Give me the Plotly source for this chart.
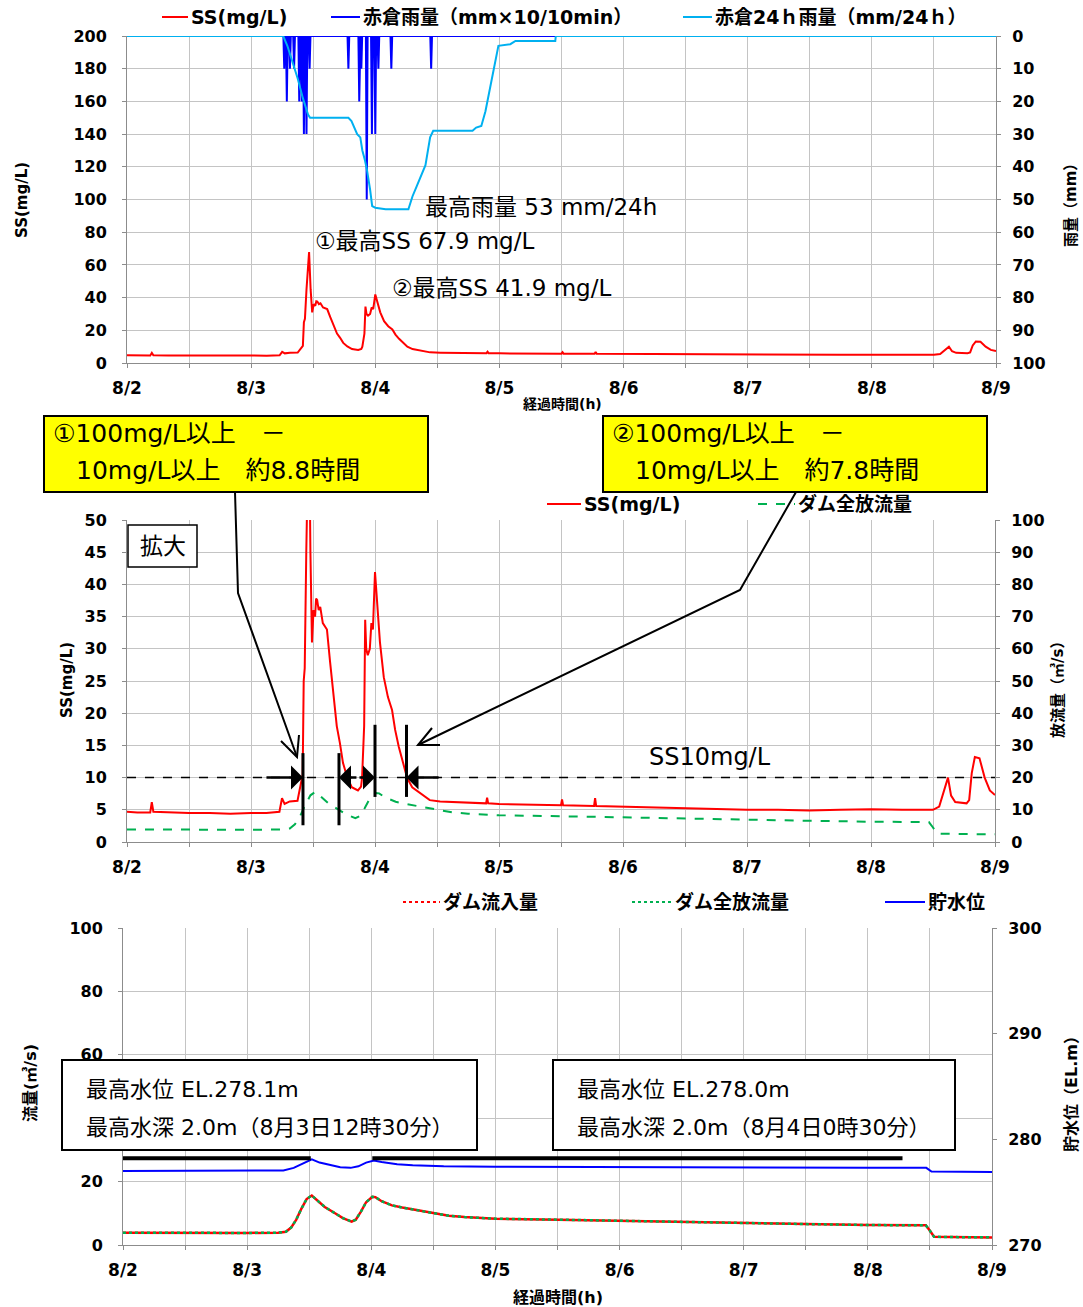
import plotly.graph_objects as go

W, H = 1083, 1307

# ---------------- data (hours from 8/2 0:00) ----------------
date_labels = ["8/2", "8/3", "8/4", "8/5", "8/6", "8/7", "8/8", "8/9"]

ss_hours = [0, 2, 4.5, 4.8, 5.1, 8, 12, 16, 20, 24, 27, 29.5, 30.0, 30.5, 31.5, 33.0, 33.5, 34.0,
            34.2, 34.4, 34.7, 35.0, 35.2, 35.5, 35.8, 36.1, 36.4, 36.6, 36.8, 37.1, 37.4, 37.9,
            38.7, 39.3, 39.9, 40.6, 41.2, 41.8, 42.6, 43.5, 44.7, 45.3, 45.5, 45.9, 46.1, 46.3,
            46.6, 47.0, 47.3, 47.6, 48.0, 48.4, 48.96, 49.7, 50.5, 51.3, 51.9, 52.6, 53.4, 54.2,
            55.2, 56.7, 58.6, 60.6, 66, 69.5, 69.7, 69.9, 72, 78, 84.0, 84.2, 84.4, 90.4, 90.6,
            90.8, 96, 102, 108, 114, 120, 126, 132, 138, 144, 150, 156, 157.2, 158.3, 158.9,
            159.5, 160.3, 162.5, 163.0, 163.5, 164.1, 165.0, 166.0, 167.0, 168.0]
ss_values = [4.7, 4.6, 4.6, 6.2, 4.7, 4.6, 4.5, 4.5, 4.4, 4.5, 4.5, 4.7, 6.8, 5.9, 6.3, 6.4, 8.4, 10.5,
             25, 27, 45, 60, 67.9, 45, 31, 36, 35, 37.8, 37.6, 36, 36.5, 34,
             33, 28, 23, 18, 15.4, 12.3, 10.1, 8.5, 8.0, 8.6, 10, 18, 34.5, 30,
             29, 30, 34, 33, 41.9, 37.6, 31, 25.6, 22.5, 20.5, 17.4, 14.8, 12.3, 10,
             8.5, 7.6, 6.5, 6.3, 6.1, 6.0, 6.9, 6.0, 5.9, 5.8, 5.7, 6.6, 5.7, 5.6, 6.8,
             5.6, 5.5, 5.3, 5.2, 5.1, 5.0, 5.0, 4.9, 5.0, 5.1, 5.0, 5.0, 5.5, 8.5, 10.0,
             7.2, 6.2, 6.0, 6.5, 10.7, 13.2, 13.0, 10.0, 8.0, 7.3]

# 赤倉雨量 (mm x10 / 10min): spikes
rain10_hours = [30.4, 30.9, 31.5, 32.3, 33.3, 33.8, 34.2, 34.7, 35.3, 42.8, 44.9, 45.3, 46.35,
                47.35, 48.0, 48.6, 51.1, 58.8]
rain10_values = [10, 20, 10, 10, 20, 20, 30, 30, 10, 10, 20, 10, 50, 30, 30, 10, 10, 10]

# 赤倉24h雨量 (mm/24h)
rain24_hours = [0, 30.2, 31.0, 32.0, 33.0, 34.0, 35.0, 35.4, 42.8, 43.4, 44.5, 45.1, 45.5, 46.0,
                46.4, 47.0, 47.4, 48.0, 50.0, 54.4, 55.2, 56.0, 56.7, 57.7, 58.6, 59.2, 66.8,
                67.5, 68.5, 69.3, 70.3, 71.2, 71.8, 74.1, 75.1, 82.8, 82.9, 168]
rain24_values = [0, 0, 3, 8, 13, 19, 24, 25, 25, 26, 30, 31, 35, 38,
                 41, 47, 52, 52.5, 53, 53, 49, 46, 43.5, 39.5, 31, 29, 29,
                 28, 27.5, 23, 15, 8, 3, 2.5, 1.5, 1.5, 0, 0]

# ダム全放流量 / ダム流入量 (m3/s)
flow_hours = [0, 12, 24, 30, 31.5, 32.5, 33.5, 34.5, 35.5, 36.5, 37.5, 39, 41, 42.5, 44.2, 45,
              46, 47, 48.2, 48.8, 50, 52, 54, 56, 58, 60, 63, 66, 69.6, 72, 84, 96, 108, 120,
              132, 144, 155.2, 156.0, 156.8, 160, 168]
outflow_values = [3.9, 3.8, 3.8, 3.9, 4.2, 5.5, 8.0, 11.5, 14.5, 15.6, 14.2, 12, 10, 8.5, 7.4, 8.0,
                  10.5, 13.5, 15.2, 15.1, 13.8, 12.5, 11.8, 11.2, 10.5, 10, 9.2, 8.8, 8.4, 8.3, 8.0,
                  7.6, 7.3, 6.9, 6.6, 6.3, 6.2, 4.5, 2.6, 2.5, 2.4]
inflow_values = [3.9, 3.8, 3.8, 3.9, 4.2, 5.5, 8.0, 11.5, 14.5, 15.6, 14.2, 12, 10, 8.5, 7.4, 8.0,
                 10.5, 13.5, 15.2, 15.1, 13.8, 12.5, 11.8, 11.2, 10.5, 10, 9.2, 8.8, 8.4, 8.3, 8.0,
                 7.6, 7.3, 6.9, 6.6, 6.3, 6.2, 4.5, 2.6, 2.5, 2.4]

# 貯水位 (EL.m)
level_hours = [0, 24, 31, 33, 35, 36.5, 38, 40, 42, 44, 45.5, 47, 48.5, 50, 53, 56, 62, 72, 96,
               120, 144, 155.3, 156.3, 168]
level_values = [277.0, 277.0, 277.05, 277.3, 277.8, 278.1, 277.8, 277.55, 277.35, 277.3, 277.45,
                277.8, 278.0, 277.85, 277.65, 277.55, 277.45, 277.4, 277.35, 277.3, 277.3, 277.3,
                276.95, 276.9]

assert len(ss_hours) == len(ss_values)
assert len(rain10_hours) == len(rain10_values)
assert len(rain24_hours) == len(rain24_values)
assert len(flow_hours) == len(outflow_values) == len(inflow_values)
assert len(level_hours) == len(level_values)

# expand 10-min rain spikes into a line series
r10_x, r10_y = [0], [0]
for t, v in zip(rain10_hours, rain10_values):
    r10_x += [t - 1 / 6, t, t + 1 / 6]
    r10_y += [0, v, 0]
r10_x.append(168)
r10_y.append(0)

# ---------------- helpers ----------------
def px(x):
    return x / W


def py(y):
    return 1 - y / H


JP = "DejaVu Sans, Noto Sans CJK JP"
GRID = "#c4c4c4"
AX = "#8c8c8c"
TICK = dict(family="DejaVu Sans", size=16, color="black", weight="bold")
XTICK = dict(family="DejaVu Sans", size=17, color="black", weight="bold")

C_RED, C_BLUE, C_LBLUE, C_GREEN = "#ff0000", "#0000ff", "#00b0f0", "#00b050"

tickvals = list(range(0, 169, 12))
ticktext = [date_labels[i // 2] if i % 2 == 0 else "" for i in range(len(tickvals))]

fig = go.Figure()

fig.add_trace(go.Scatter(x=ss_hours, y=ss_values, mode="lines", name="SS(mg/L)",
                         line=dict(color=C_RED, width=2), xaxis="x", yaxis="y"))
fig.add_trace(go.Scatter(x=r10_x, y=r10_y, mode="lines", name="赤倉雨量（mm×10/10min）",
                         line=dict(color=C_BLUE, width=2), xaxis="x", yaxis="y2"))
fig.add_trace(go.Scatter(x=rain24_hours, y=rain24_values, mode="lines", name="赤倉24ｈ雨量（mm/24ｈ）",
                         line=dict(color=C_LBLUE, width=2), xaxis="x", yaxis="y2"))

fig.add_trace(go.Scatter(x=ss_hours, y=ss_values, mode="lines", name="SS(mg/L)",
                         line=dict(color=C_RED, width=2), xaxis="x2", yaxis="y3"))
fig.add_trace(go.Scatter(x=flow_hours, y=outflow_values, mode="lines", name="ダム全放流量",
                         line=dict(color=C_GREEN, width=2, dash="dash"), xaxis="x2", yaxis="y4"))

fig.add_trace(go.Scatter(x=flow_hours, y=inflow_values, mode="lines", name="ダム流入量",
                         line=dict(color=C_RED, width=2.5), xaxis="x3", yaxis="y5"))
fig.add_trace(go.Scatter(x=flow_hours, y=outflow_values, mode="lines", name="ダム全放流量",
                         line=dict(color=C_GREEN, width=2.5, dash="dot"), xaxis="x3", yaxis="y5"))
fig.add_trace(go.Scatter(x=level_hours, y=level_values, mode="lines", name="貯水位",
                         line=dict(color=C_BLUE, width=2), xaxis="x3", yaxis="y6"))


def xax(domain, anchor):
    return dict(domain=domain, anchor=anchor, range=[0, 168], tickvals=tickvals, ticktext=ticktext,
                showgrid=True, gridcolor=GRID, gridwidth=1, showline=True, linecolor=AX, linewidth=1,
                ticks="outside", ticklen=4, tickcolor=AX, tickfont=XTICK, zeroline=False,
                ticklabelstandoff=6, automargin=False)


def yax(domain, anchor, rng, dtick, side="left", overlay=None, grid=True):
    d = dict(domain=domain, anchor=anchor, range=rng, dtick=dtick, tick0=0, side=side,
             showgrid=grid, gridcolor=GRID, gridwidth=1, showline=True, linecolor=AX, linewidth=1,
             ticks="outside", ticklen=4, tickcolor=AX, tickfont=TICK, zeroline=False,
             ticklabelstandoff=12 if side == "left" else 8, automargin=False)
    if overlay:
        d["overlaying"] = overlay
    return d


top_dom = [py(363), py(36)]
mid_dom = [py(842), py(520)]
bot_dom = [py(1245), py(928)]

layout_axes = dict(
    xaxis=xax([px(127), px(996)], "y"),
    yaxis=yax(top_dom, "x", [0, 200], 20),
    yaxis2=yax(top_dom, "x", [100, 0], 10, side="right", overlay="y", grid=False),
    xaxis2=xax([px(127), px(995)], "y3"),
    yaxis3=yax(mid_dom, "x2", [0, 50], 5),
    yaxis4=yax(mid_dom, "x2", [0, 100], 10, side="right", overlay="y3", grid=False),
    xaxis3=xax([px(123), px(992)], "y5"),
    yaxis5=yax(bot_dom, "x3", [0, 100], 20),
    yaxis6=yax(bot_dom, "x3", [270, 300], 10, side="right", overlay="y5", grid=False),
)
layout_axes["yaxis6"]["tick0"] = 270
# the 40 label is hidden behind the info box in the reference
layout_axes["yaxis5"].pop("dtick")
layout_axes["yaxis5"]["tickvals"] = [0, 20, 40, 60, 80, 100]
layout_axes["yaxis5"]["ticktext"] = ["0", "20", "", "60", "80", "100"]

shapes = []
annotations = []


def line_px(x0, y0, x1, y1, w=2, color="black", dash=None):
    shapes.append(dict(type="line", xref="paper", yref="paper", x0=px(x0), y0=py(y0), x1=px(x1),
                       y1=py(y1), line=dict(color=color, width=w, dash=dash), layer="above"))


def path_px(pts, w=2):
    p = "M " + " L ".join(f"{px(a):.5f},{py(b):.5f}" for a, b in pts)
    shapes.append(dict(type="path", xref="paper", yref="paper", path=p,
                       line=dict(color="black", width=w), layer="above"))


def rect_px(x0, y0, x1, y1, fill, w=2):
    shapes.append(dict(type="rect", xref="paper", yref="paper", x0=px(x0), y0=py(y0), x1=px(x1),
                       y1=py(y1), fillcolor=fill, line=dict(color="black", width=w), layer="above"))


def text_px(x, y, s, size=23, anchor="left", bold=False, family=JP, angle=0):
    annotations.append(dict(xref="paper", yref="paper", x=px(x), y=py(y), text=s, showarrow=False,
                            xanchor=anchor, yanchor="middle", textangle=angle,
                            font=dict(family=family, size=size, color="black",
                                      weight="bold" if bold else "normal")))


def legend_item(x0, x1, y, color, dash, label):
    line_px(x0, y, x1, y, w=2, color=color, dash=dash)
    text_px(x1 + 1, y, label, size=19, bold=True)


# --- legends (drawn by hand to match the reference placement)
legend_item(162, 188, 17, C_RED, None, "SS(mg/L)")
legend_item(331, 360, 17, C_BLUE, None, "赤倉雨量（mm×10/10min）")
legend_item(683, 712, 17, C_LBLUE, None, "赤倉24ｈ雨量（mm/24ｈ）")
legend_item(547, 581, 504, C_RED, None, "SS(mg/L)")
legend_item(758, 795, 504, C_GREEN, "dash", "ダム全放流量")
legend_item(403, 440, 902, C_RED, "dot", "ダム流入量")
legend_item(632, 672, 902, C_GREEN, "dot", "ダム全放流量")
legend_item(885, 925, 902, C_BLUE, None, "貯水位")

# --- top panel texts
text_px(423, 207, "最高雨量 53 mm/24h")
text_px(313, 241, "①最高SS 67.9 mg/L")
text_px(390, 288, "②最高SS 41.9 mg/L")
text_px(562, 404, "経過時間(h)", size=14, anchor="center", bold=True)
text_px(22, 200, "SS(mg/L)", size=15, anchor="center", bold=True, angle=-90)
text_px(1071, 202, "雨量（mm）", size=15, anchor="center", bold=True, angle=-90)

# --- yellow boxes
rect_px(44, 416, 428, 492, "#ffff00")
rect_px(603, 416, 987, 492, "#ffff00")
text_px(51, 433, "①100mg/L以上　－", size=25)
text_px(74, 470, "10mg/L以上　約8.8時間", size=25)
text_px(610, 433, "②100mg/L以上　－", size=25)
text_px(633, 470, "10mg/L以上　約7.8時間", size=25)

# callout lines
path_px([(235, 492), (238, 593), (297, 757)])
path_px([(281, 741), (297, 757), (299, 735)])
path_px([(796, 492), (740, 590), (418, 745)])
path_px([(432, 728), (418, 745), (440, 745)])

# --- middle panel
rect_px(128, 525, 197, 567, "white", w=1.5)
text_px(162.5, 546, "拡大", size=23, anchor="center")
text_px(647, 757, "SS10mg/L", size=24)
text_px(67, 680, "SS(mg/L)", size=15, anchor="center", bold=True, angle=-90)
text_px(1058, 686, "放流量（㎥/s）", size=15, anchor="center", bold=True, angle=-90)

shapes.append(dict(type="line", xref="x2", yref="y3", x0=0, x1=168, y0=10, y1=10,
                   line=dict(color="black", width=1.5, dash="dash")))
for hx, ylo, yhi in [(34.06, 2.6, 13.8), (41.03, 2.6, 13.8), (48.0, 7.0, 18.2), (54.1, 7.0, 18.2)]:
    shapes.append(dict(type="line", xref="x2", yref="y3", x0=hx, x1=hx, y0=ylo, y1=yhi,
                       line=dict(color="black", width=3), layer="above"))
for tip, tail in [(34.06, 26.7), (41.03, 44.7), (48.0, 44.7), (54.1, 60.6)]:
    annotations.append(dict(xref="x2", yref="y3", axref="x2", ayref="y3", x=tip, y=10, ax=tail, ay=10,
                            text="", showarrow=True, arrowhead=1, arrowsize=1.6, arrowwidth=2.5,
                            arrowcolor="black", standoff=0))

# --- bottom panel
rect_px(62, 1060, 477, 1150, "white")
rect_px(553, 1060, 955, 1150, "white")
text_px(84, 1089, "最高水位 EL.278.1m", size=22)
text_px(84, 1127, "最高水深 2.0m（8月3日12時30分）", size=22)
text_px(575, 1089, "最高水位 EL.278.0m", size=22)
text_px(575, 1127, "最高水深 2.0m（8月4日0時30分）", size=22)
shapes.append(dict(type="line", xref="x3", yref="y6", x0=0, x1=36.3, y0=278.2, y1=278.2,
                   line=dict(color="black", width=4)))
shapes.append(dict(type="line", xref="x3", yref="y6", x0=48.2, x1=150.7, y0=278.2, y1=278.2,
                   line=dict(color="black", width=4)))
text_px(30, 1083, "流量(㎥/s)", size=16, anchor="center", bold=True, angle=-90)
text_px(1071, 1090, "貯水位（EL.m）", size=16, anchor="center", bold=True, angle=-90)
text_px(558, 1297, "経過時間(h)", size=16, anchor="center", bold=True)

fig.update_layout(
    width=W, height=H, margin=dict(l=0, r=0, t=0, b=0, autoexpand=False),
    paper_bgcolor="white", plot_bgcolor="white", showlegend=False,
    shapes=shapes, annotations=annotations,
    **layout_axes,
)

fig.write_html("out.html", post_script="document.body.style.margin='0';",
               config={"displayModeBar": False})
